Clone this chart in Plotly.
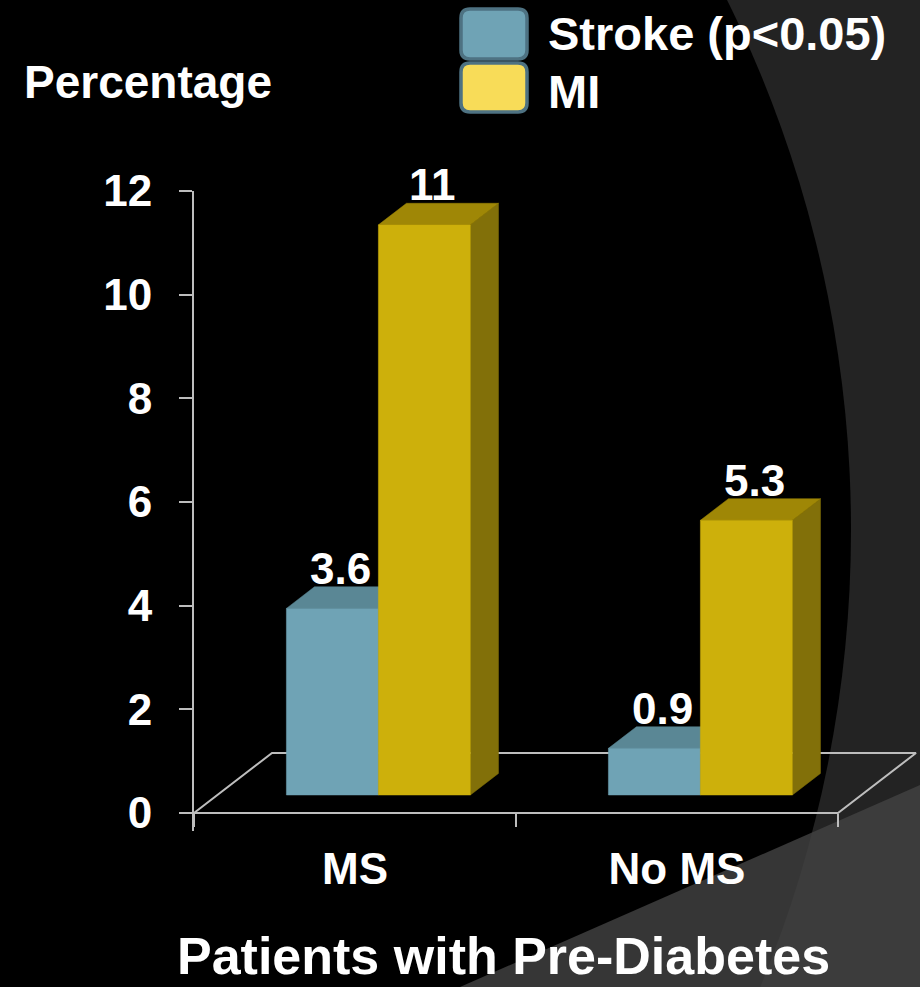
import plotly.graph_objects as go

# ---------------- data ----------------
categories = ["MS", "No MS"]
series_names = ["Stroke (p<0.05)", "MI"]
stroke_values = [3.6, 0.9]
mi_values = [11, 5.3]
value_labels_stroke = ["3.6", "0.9"]
value_labels_mi = ["11", "5.3"]
y_ticks = [0, 2, 4, 6, 8, 10, 12]
y_title = "Percentage"
x_title = "Patients with Pre-Diabetes"

# ---------------- style ----------------
W, H = 920, 987
FONT = "Liberation Sans, Arial, sans-serif"
FRONT = ["#6fa3b5", "#cdb00b"]
TOP = ["#5a8795", "#9f8706"]
SIDE = ["#4d7482", "#827009"]
LEGEND_FILL = ["#6fa3b5", "#f8dc58"]
LINE = "#bdbdbd"

# pixel geometry of the plot frame
PX_X0, PX_PER_X = 194, 322.0       # x = 0 at 194 px
PX_Y0, PX_PER_Y = 813, 51.83       # y = 0 at 813 px
X_RANGE = [0, 2.25]
Y_RANGE = [-0.35, 12]
DX = 78 / PX_PER_X                 # floor depth in data units
DY = 60 / PX_PER_Y
F0, F1 = 0.30, 0.66                # bar depth span (fraction of floor depth)
BAR_W = 92 / PX_PER_X


def pxx(v):
    return v / W


def pxy(v):
    return 1 - v / H


x_dom = [pxx(PX_X0 + X_RANGE[0] * PX_PER_X), pxx(PX_X0 + X_RANGE[1] * PX_PER_X)]
y_dom = [pxy(PX_Y0 - Y_RANGE[0] * PX_PER_Y), pxy(PX_Y0 - Y_RANGE[1] * PX_PER_Y)]


def P(x, y, f):
    return x + f * DX, y + f * DY


fig = go.Figure()

# floor outline
n = len(categories)
fx, fy = [], []
for pt in [P(0, 0, 0), P(n, 0, 0), P(n, 0, 1), P(0, 0, 1), P(0, 0, 0)]:
    fx.append(pt[0]); fy.append(pt[1])
fig.add_trace(go.Scatter(x=fx, y=fy, mode="lines", line=dict(color=LINE, width=2),
                         hoverinfo="skip", showlegend=False))


def poly(pts, color):
    xs = [p[0] for p in pts] + [pts[0][0]]
    ys = [p[1] for p in pts] + [pts[0][1]]
    fig.add_trace(go.Scatter(x=xs, y=ys, mode="lines", fill="toself", fillcolor=color,
                             line=dict(color=color, width=0.5), hoverinfo="skip",
                             showlegend=False))


series = [stroke_values, mi_values]
labels = [value_labels_stroke, value_labels_mi]
annotations = []
for i, cat in enumerate(categories):
    c = i + 0.5
    for s, vals in enumerate(series):
        v = vals[i]
        xb0 = c - BAR_W + s * BAR_W
        xb1 = xb0 + BAR_W
        # side, top, front
        poly([P(xb1, 0, F0), P(xb1, 0, F1), P(xb1, v, F1), P(xb1, v, F0)], SIDE[s])
        poly([P(xb0, v, F0), P(xb1, v, F0), P(xb1, v, F1), P(xb0, v, F1)], TOP[s])
        poly([P(xb0, 0, F0), P(xb1, 0, F0), P(xb1, v, F0), P(xb0, v, F0)], FRONT[s])
        lx, ly = P((xb0 + xb1) / 2, v, F1)
        annotations.append(dict(x=(xb0 + xb1) / 2 + 0.4 * DX, y=ly, xref="x", yref="y",
                                text=labels[s][i], showarrow=False, yanchor="bottom",
                                yshift=-8, font=dict(family=FONT, size=44, color="white",
                                                     weight="bold")))

# texts in the page
annotations += [
    dict(x=pxx(22), y=pxy(82), xref="paper", yref="paper", text=y_title, showarrow=False,
         xanchor="left", yanchor="middle",
         font=dict(family=FONT, size=46, color="white", weight="bold")),
    dict(x=pxx(504), y=0, xref="paper", yref="paper", text=x_title, showarrow=False,
         xanchor="center", yanchor="bottom",
         font=dict(family=FONT, size=52, color="white", weight="bold")),
]

# background decoration + custom legend
shapes = [
    dict(type="circle", xref="paper", yref="paper", layer="below",
         x0=pxx(-344 - 1195), x1=pxx(-344 + 1195), y0=pxy(530 + 1195), y1=pxy(530 - 1195),
         fillcolor="black", line=dict(width=0)),
    dict(type="path", xref="paper", yref="paper", layer="below",
         path=f"M {pxx(460)} {pxy(987)} L {pxx(920)} {pxy(785)} L {pxx(920)} {pxy(987)} Z",
         fillcolor="rgba(65,65,65,0.83)", line=dict(width=0)),
]


def rounded(x0, y0, x1, y1, r):
    a, b, c, d = pxx(x0), pxx(x1), pxy(y0), pxy(y1)
    rx, ry = r / W, r / H
    return (f"M {a + rx} {c} L {b - rx} {c} Q {b} {c} {b} {c - ry} L {b} {d + ry} "
            f"Q {b} {d} {b - rx} {d} L {a + rx} {d} Q {a} {d} {a} {d + ry} "
            f"L {a} {c - ry} Q {a} {c} {a + rx} {c} Z")


legend_rows = [(9, 59, 34), (63, 112, 91)]
for s, name in enumerate(series_names):
    y0, y1, yc = legend_rows[s]
    shapes.append(dict(type="path", xref="paper", yref="paper",
                       path=rounded(461, y0, 527, y1, 9), fillcolor=LEGEND_FILL[s],
                       line=dict(color="#4e7282", width=3.5)))
    annotations.append(dict(x=pxx(546), y=pxy(yc), xref="paper", yref="paper", text=name,
                            showarrow=False, xanchor="left", yanchor="middle",
                            font=dict(family=FONT, size=47, color="white", weight="bold")))

fig.update_layout(
    width=W, height=H, margin=dict(l=0, r=0, t=0, b=0, autoexpand=False),
    paper_bgcolor="#232323", plot_bgcolor="rgba(0,0,0,0)",
    showlegend=False, shapes=shapes, annotations=annotations,
    xaxis=dict(domain=x_dom, range=X_RANGE, showgrid=False, zeroline=False, showline=False,
               anchor="free", position=pxy(PX_Y0), automargin=False,
               tickmode="array", tickvals=[i + 0.5 for i in range(n)], ticktext=categories,
               ticks="", ticklabelstandoff=26,
               tickfont=dict(family=FONT, size=44, color="white", weight="bold"),
               minor=dict(tickmode="array", tickvals=list(range(n + 1)), ticks="outside",
                          ticklen=13, tickwidth=2, tickcolor=LINE, showgrid=False),
               fixedrange=True),
    yaxis=dict(domain=y_dom, range=Y_RANGE, showgrid=False, zeroline=False, showline=True,
               automargin=False,
               linecolor=LINE, linewidth=2, ticks="outside", ticklen=13, tickwidth=2,
               tickcolor=LINE, tickmode="array", tickvals=y_ticks, ticklabelstandoff=18,
               tickfont=dict(family=FONT, size=44, color="white", weight="bold"),
               fixedrange=True),
)

fig.write_html("out.html")
